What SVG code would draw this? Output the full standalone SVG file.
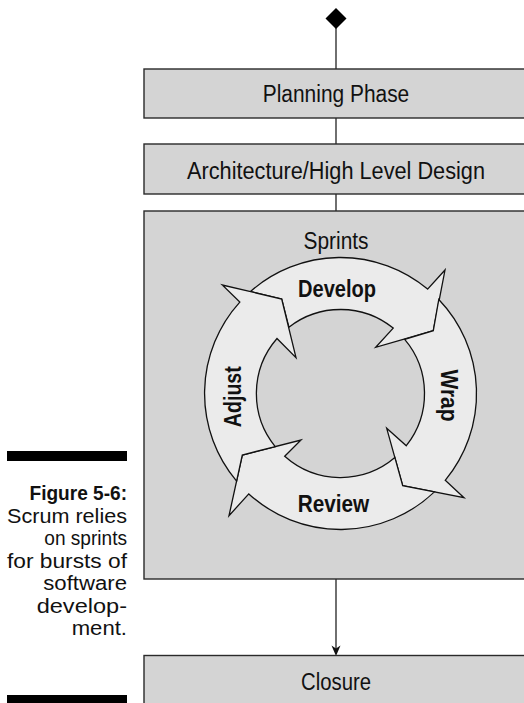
<svg xmlns="http://www.w3.org/2000/svg" width="524" height="703" viewBox="0 0 524 703">
<style>
  .box { fill: #d4d4d4; stroke: #2a2a2a; stroke-width: 1.4; }
  .lbl { font-family: "Liberation Sans", Arial, sans-serif; font-size: 23px; fill: #111; text-anchor: middle; }
  .bold { font-weight: bold; }
  .seg { fill: #ebebeb; stroke: #111; stroke-width: 1.3; stroke-linejoin: miter; }
  .conn { stroke: #222; stroke-width: 1.3; fill: none; }
  .cap { font-family: "Liberation Sans", Arial, sans-serif; font-size: 19.5px; fill: #111; text-anchor: end; }
</style>
<rect width="524" height="703" fill="#ffffff"/>

<g id="connectors">
  <line class="conn" x1="336" y1="28" x2="336" y2="69"/>
  <line class="conn" x1="336" y1="118" x2="336" y2="144"/>
  <line class="conn" x1="336" y1="194" x2="336" y2="211"/>
  <line class="conn" x1="336" y1="579" x2="336" y2="650"/>
  <path d="M331.5 645.5 L336 656 L340.5 645.5 L336 648.5 Z" fill="#111"/>
</g>

<g id="start">
  <path d="M336 8 L346.5 18.5 L336 29 L325.5 18.5 Z" fill="#000"/>
</g>

<g id="planning">
  <rect class="box" x="144" y="69" width="384" height="49"/>
  <text class="lbl" x="336" y="102" textLength="146.5" lengthAdjust="spacingAndGlyphs">Planning Phase</text>
</g>

<g id="architecture">
  <rect class="box" x="144" y="144" width="384" height="50"/>
  <text class="lbl" x="336" y="179" textLength="298" lengthAdjust="spacingAndGlyphs">Architecture/High Level Design</text>
</g>

<g id="sprints">
  <rect class="box" x="144" y="211" width="384" height="368"/>
  <text class="lbl" x="336" y="249" textLength="65" lengthAdjust="spacingAndGlyphs">Sprints</text>
</g>

<g id="develop">
  <path class="seg" d="M250.5 291.5 A136 136 0 0 1 427.6 289.1 L445 270 L433.3 330.7 L375.7 347.3 L393.2 328.1 A84 84 0 0 0 288.9 327.2 L281.7 299 Z"/>
  <text class="lbl bold" x="337" y="296.5" textLength="78" lengthAdjust="spacingAndGlyphs">Develop</text>
</g>

<g id="wrap">
  <path class="seg" d="M438.8 299.5 A136 136 0 0 1 445.2 480.3 L464 497.7 L402.7 485.7 L386.7 428.3 L406.3 445.7 A84 84 0 0 0 404.7 339.3 L433.3 330.7 Z"/>
  <text class="lbl bold" transform="translate(440.5 395.5) rotate(90)" x="0" y="0" textLength="52" lengthAdjust="spacingAndGlyphs">Wrap</text>
</g>

<g id="review">
  <path class="seg" d="M434.4 491.9 A136 136 0 0 1 248.8 493.9 L229 515.7 L242.3 455 L301 440 L284.7 456.3 A84 84 0 0 0 394.9 457.6 L402.7 485.7 Z"/>
  <text class="lbl bold" x="333.5" y="511.5" textLength="71.5" lengthAdjust="spacingAndGlyphs">Review</text>
</g>

<g id="adjust">
  <path class="seg" d="M236.6 481.1 A136 136 0 0 1 239.8 302.1 L222.3 285 L281.7 299 L296 357.7 L277 338.5 A84 84 0 0 0 275.2 446.6 L242.3 455 Z"/>
  <text class="lbl bold" transform="translate(241 396.7) rotate(-90)" x="0" y="0" textLength="61" lengthAdjust="spacingAndGlyphs">Adjust</text>
</g>

<g id="closure">
  <rect class="box" x="144" y="655.5" width="384" height="60"/>
  <text class="lbl" x="336" y="690" textLength="70" lengthAdjust="spacingAndGlyphs">Closure</text>
</g>

<g id="caption">
  <rect x="7" y="451" width="120" height="10" fill="#000"/>
  <text class="cap bold" x="127" y="500" textLength="97.5" lengthAdjust="spacingAndGlyphs">Figure 5-6:</text>
  <text class="cap" x="127" y="522.5" textLength="120" lengthAdjust="spacingAndGlyphs">Scrum relies</text>
  <text class="cap" x="127" y="545" textLength="82.7" lengthAdjust="spacingAndGlyphs">on sprints</text>
  <text class="cap" x="127" y="567.5" textLength="120" lengthAdjust="spacingAndGlyphs">for bursts of</text>
  <text class="cap" x="127" y="590" textLength="83.7" lengthAdjust="spacingAndGlyphs">software</text>
  <text class="cap" x="127" y="612.5" textLength="90.3" lengthAdjust="spacingAndGlyphs">develop-</text>
  <text class="cap" x="127" y="635" textLength="55.3" lengthAdjust="spacingAndGlyphs">ment.</text>
  <rect x="7" y="695" width="120" height="10" fill="#000"/>
</g>
</svg>
